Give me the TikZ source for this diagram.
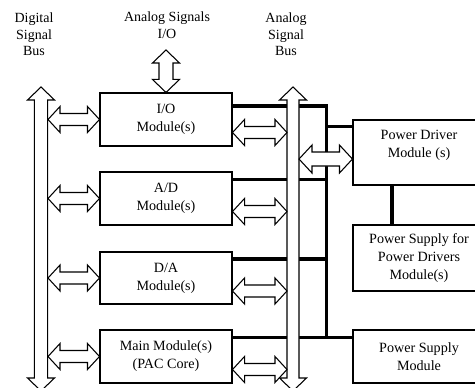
\documentclass[tikz,border=0pt]{standalone}
\usepackage{fontspec}
\setmainfont{Liberation Serif}
\usetikzlibrary{calc}
\newcommand\hdarr[6]{% #1 left tip, #2 right tip, #3 head length, #4 head half, #5 shaft half, #6 style
  \draw[#6] (#1) -- ($(#1)+(#3,-#4)$) -- ($(#1)+(#3,-#5)$) -- ($(#2)+(-#3,-#5)$) -- ($(#2)+(-#3,-#4)$) -- (#2)
    -- ($(#2)+(-#3,#4)$) -- ($(#2)+(-#3,#5)$) -- ($(#1)+(#3,#5)$) -- ($(#1)+(#3,#4)$) -- cycle;}
\newcommand\vdarr[6]{% #1 top tip, #2 bottom tip
  \draw[#6] (#1) -- ($(#1)+(-#4,#3)$) -- ($(#1)+(-#5,#3)$) -- ($(#2)+(-#5,-#3)$) -- ($(#2)+(-#4,-#3)$) -- (#2)
    -- ($(#2)+(#4,-#3)$) -- ($(#2)+(#5,-#3)$) -- ($(#1)+(#5,#3)$) -- ($(#1)+(#4,#3)$) -- cycle;}
\begin{document}
\begin{tikzpicture}[x=0.75pt,y=-0.75pt,
  box/.style={draw, line width=0.8pt, inner sep=0pt, minimum width=99pt, align=center,
    font=\fontsize{10.6}{13.5}\selectfont},
  lbl/.style={align=center, inner sep=0pt, font=\fontsize{10.5}{12.5}\selectfont},
  arr/.style={draw, fill=white, line width=0.8pt, line join=miter},
  thick line/.style={line width=2.6pt}]
\useasboundingbox (0,0) rectangle (475,388);
\clip (0,0) rectangle (475,388);
% labels
\node[lbl] (l1) at (34,34.5) {Digital\\Signal\\Bus};
\node[lbl] (l2) at (167,25.5) {Analog Signals\\I/O};
\node[lbl] (l3) at (286,34.5) {Analog\\Signal\\Bus};
% left modules
\node[box, minimum height=39.75pt] (io) at (166,119.5) {I/O\\Module(s)};
\node[box, minimum height=39.75pt] (ad) at (166,198.5) {A/D\\Module(s)};
\node[box, minimum height=39pt] (da) at (166,278) {D/A\\Module(s)};
\node[box, minimum height=39.75pt] (mm) at (166,356.5) {Main Module(s)\\(PAC Core)};
% right modules
\node[box, minimum height=48.75pt] (pd) at (419,152.5) {Power Driver\\Module (s)\\\mbox{}};
\node[box, minimum height=49.5pt] (pspd) at (419,258) {Power Supply for\\Power Drivers\\Module(s)};
\node[box, minimum height=39.75pt] (psm) at (419,356.5) {Power Supply\\Module};
% power wiring
\coordinate (vt) at (326.5,107);
\coordinate (vb) at (326.5,338);
\coordinate (ioP) at ([yshift=-10.1pt]io.north east);
\coordinate (adP) at ([yshift=-6pt]ad.north east);
\coordinate (daP) at ([yshift=-5.6pt]da.north east);
\coordinate (mmP) at ([yshift=-6pt]mm.north east);
\coordinate (pdP) at ([yshift=-5.25pt]pd.north west);
\coordinate (psmP) at ([yshift=-6pt]psm.north west);
\draw[thick line] (ioP) -- (ioP -| vt) -- (vb);
\draw[thick line] (adP) -- (adP -| vt);
\draw[thick line] (daP) -- (daP -| vt);
\draw[thick line] (mmP) -- (psmP);
\draw[thick line] (pdP -| vt) -- (pdP);
\coordinate (p1) at (392,185);
\draw[thick line] (p1 |- pd.south) -- (p1 |- pspd.north);
% buses
\coordinate (dt) at (41,87); \coordinate (db) at (41,391);
\coordinate (at) at (293,87); \coordinate (ab) at (293,391);
\vdarr{dt}{db}{13}{13.5}{6.7}{arr}
\vdarr{at}{ab}{13}{13.5}{6}{arr}
% analog I/O arrow
\coordinate (aio) at (166,50);
\vdarr{aio}{io.north}{13}{13.5}{7}{arr}
% side arrows
\coordinate (dR) at (48,0);
\coordinate (aL) at (287,0);
\coordinate (aR) at (299,0);
\foreach \n in {io,ad,da,mm}{
  \coordinate (lA) at (dR |- \n.west);
  \hdarr{lA}{\n.west}{12}{13}{6}{arr}
  \coordinate (rA) at ([yshift=-9.75pt]\n.east);
  \coordinate (rB) at (aL |- rA);
  \hdarr{rA}{rB}{12}{13}{6}{arr}
}
\coordinate (pB) at ([yshift=-4.9pt]pd.west);
\coordinate (pA) at (aR |- pB);
\hdarr{pA}{pB}{13}{14}{7}{arr}
\end{tikzpicture}
\end{document}
